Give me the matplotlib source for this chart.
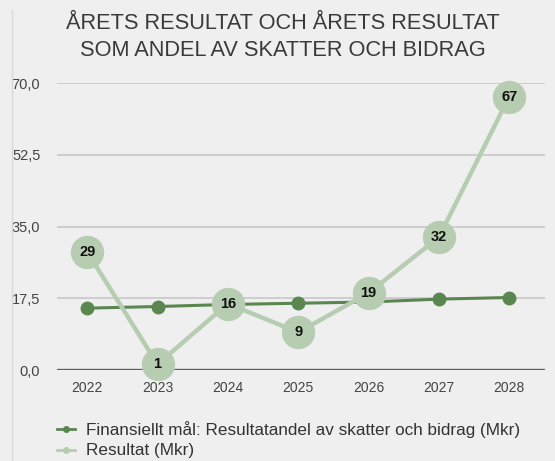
import numpy as np
from matplotlib import pyplot as plt

# Data
years = ['2022', '2023', '2024', '2025', '2026', '2027', '2028']
finansiellt_mal = [15.1, 15.5, 16.0, 16.3, 16.6, 17.3, 17.7]
resultat = [28.8, 1.4, 16.2, 9.2, 18.8, 32.4, 66.7]
yticks = [0, 17.5, 35, 52.5, 70]

bg = '#efefef'
dark = '#5a8650'
light = '#b7cdb2'

plt.rcParams['font.family'] = ['Liberation Sans', 'DejaVu Sans']

fig = plt.figure(figsize=(5.55, 4.61), dpi=100, facecolor=bg)
ax = fig.add_axes([57/555, 1-370/461, 488/555, (370-83.3)/461])
ax.set_facecolor(bg)

x = np.arange(len(years))

# grid
for v in yticks[1:]:
    ax.axhline(v, color='#c8c8c8', lw=1.2, zorder=0)
ax.axhline(0, color='#606060', lw=2.4, zorder=1)

ax.plot(x, finansiellt_mal, color=dark, lw=2.2, marker='o', ms=9,
        label='Finansiellt mål: Resultatandel av skatter och bidrag (Mkr)', zorder=2, clip_on=False)
ax.plot(x, resultat, color=light, lw=3.2, marker='o', ms=23,
        label='Resultat (Mkr)', zorder=3, clip_on=False)
for xi, v in zip(x, resultat):
    ax.text(xi, v, f'{round(v)}', ha='center', va='center', fontsize=10.5,
            fontweight='bold', color='#111111', zorder=4)

ax.set_xlim(-0.43, 6.51)
ax.set_ylim(0, 70)
ax.set_xticks(x)
ax.set_xticklabels(years, fontsize=10, color='#444444')
ax.set_yticks(yticks)
ax.set_yticklabels([f'{v:.1f}'.replace('.', ',') for v in yticks], fontsize=10.5, color='#444444')
ax.tick_params(length=0, pad=8)
ax.tick_params(axis='y', pad=12)
for s in ax.spines.values():
    s.set_visible(False)

fig.text(283/555, 1-37/461, 'ÅRETS RESULTAT OCH ÅRETS RESULTAT\nSOM ANDEL AV SKATTER OCH BIDRAG',
         ha='center', va='center', fontsize=15.7, color='#3a3a3a', linespacing=1.4)

# left border line
fig.add_artist(plt.Line2D([11.5/555, 11.5/555], [0, 1-10/461], color='#d8d8d8', lw=1))

handles, labels = ax.get_legend_handles_labels()
hl = [plt.Line2D([], [], color=dark, lw=2, marker='o', ms=4),
      plt.Line2D([], [], color=light, lw=2, marker='o', ms=4)]
fig.legend(hl, labels, loc='upper left', bbox_to_anchor=(54/555, 1-418/461),
           frameon=False, fontsize=12.3, handlelength=1.0, handletextpad=0.7,
           labelspacing=0.3, labelcolor='#333333', borderaxespad=0, borderpad=0.2)

fig.savefig('out.png', dpi=100, facecolor=bg)
